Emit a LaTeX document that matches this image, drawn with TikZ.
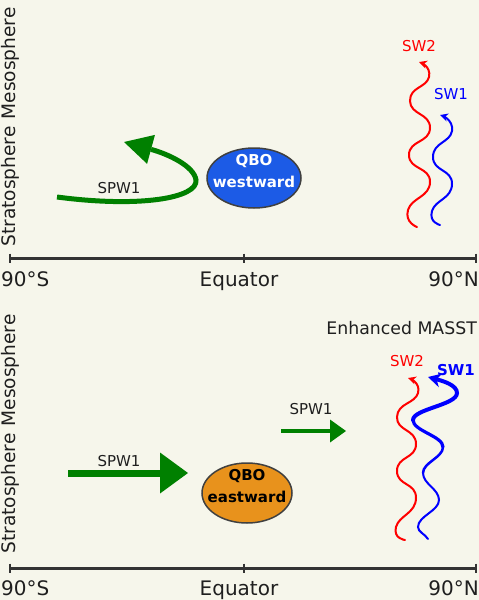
\documentclass[tikz,border=0pt]{standalone}
\usepackage{fontspec}
\setmainfont{DejaVu Sans}
\usetikzlibrary{arrows.meta,positioning,shapes.geometric}

\definecolor{paper}{RGB}{246,246,235}
\definecolor{spwgreen}{RGB}{0,128,0}
\definecolor{qboblue}{RGB}{28,91,230}
\definecolor{qboorange}{RGB}{232,146,28}
\definecolor{axisgray}{RGB}{51,51,51}

\begin{document}
\begin{tikzpicture}[
			x=1pt, y=-1pt,
			axisline/.style={line width=3pt, draw=axisgray},
			axistick/.style={line width=2.5pt, draw=axisgray},
			axislabel/.style={inner sep=0pt, text=black!88, font=\fontsize{20}{24}\selectfont},
			layerlabel/.style={rotate=90, anchor=base, inner sep=0pt, text=black!88, font=\fontsize{18.6}{22}\selectfont},
			qbo/.style={ellipse, draw=black!75, line width=1.5pt, minimum height=60pt, inner sep=0pt},
			qbotext/.style={inner sep=0pt, align=center, font=\bfseries\fontsize{15}{22}\selectfont},
			wavelabel/.style={anchor=base, inner sep=0pt, font=\fontsize{15}{18}\selectfont},
			wave/.style={line width=2pt, line cap=round, -{Stealth[length=8pt,width=8pt]}},
			spw/.style={draw=spwgreen, line width=5pt, -{Triangle[length=28pt,width=30pt,line width=0pt]}}
			]
			\useasboundingbox (0,0) rectangle (479,600);
			\fill[paper] (0,0) rectangle (479,600);
			
			% upper panel: QBO westward
			\node[layerlabel] (layersW) at (16,127) {Stratosphere\hspace{7pt}Mesosphere};
			\coordinate (southW) at (10,258);
			\coordinate (eqW) at (244,258);
			\coordinate (northW) at (476,258);
			\draw[axisline] (southW) -- (northW);
			\foreach \p in {southW,eqW,northW}
				\draw[axistick] ([yshift=4.5pt]\p) -- ([yshift=-4.5pt]\p);
			\node[axislabel, anchor=base west] (sW) at (1,286) {90°S};
			\node[axislabel, anchor=base] (eW) at (239,286) {Equator};
			\node[axislabel, anchor=base east] (nW) at (479,286) {90°N};
			
			\node[qbo, fill=qboblue, minimum width=94pt] (west) at (254,178) {};
			\node[qbotext, text=white] at ([yshift=6.5pt]west.center) {QBO\\westward};
			
			\coordinate (spwW) at (57,197);
			\coordinate (spwWtip) at (124,142);
			\draw[spw] (spwW) .. controls (140,208) and (198,198) .. (196,180)
				.. controls (194,166) and (168,154) .. (spwWtip);
			\node[wavelabel, text=black!88] at (119,193) {SPW1};
			
			\draw[wave, red] plot[smooth, tension=1] coordinates
				{(417,227) (408,210) (430,182) (409,155) (430,128) (410,101) (429,77) (419,62)};
			\draw[wave, blue] plot[smooth, tension=1] coordinates
				{(440,225) (432,211) (452,184) (433,157) (452,131) (440,115)};
			\node[wavelabel, text=red] (sw2W) at (419,51.5) {SW2};
			\node[wavelabel, text=blue] (sw1W) at (451,99) {SW1};
			
			% lower panel: QBO eastward
			\node[layerlabel] (layersE) at (16,434) {Stratosphere\hspace{7pt}Mesosphere};
			\coordinate (southE) at (10,568);
			\coordinate (eqE) at (244,568);
			\coordinate (northE) at (476,568);
			\draw[axisline] (southE) -- (northE);
			\foreach \p in {southE,eqE,northE}
				\draw[axistick] ([yshift=4.5pt]\p) -- ([yshift=-4.5pt]\p);
			\node[axislabel, anchor=base west] (sE) at (1,595) {90°S};
			\node[axislabel, anchor=base] (eE) at (239,595) {Equator};
			\node[axislabel, anchor=base east] (nE) at (479,595) {90°N};
			
			\node[anchor=base east, inner sep=0pt, text=black!88, font=\fontsize{17.3}{20}\selectfont] (masst) at (477,334) {Enhanced MASST};
			
			\node[qbo, fill=qboorange, minimum width=90pt] (east) at (247,493) {};
			\node[qbotext, text=black] at ([yshift=6.5pt]east.center) {QBO\\eastward};
			
			\coordinate (spwE) at (68,473);
			\coordinate (spwEtip) at (188,473);
			\draw[draw=spwgreen, line width=7pt, -{Triangle[length=28pt,width=41pt,line width=0pt]}] (spwE) -- (spwEtip);
			\node[wavelabel, text=black!88] at (119,466) {SPW1};
			
			\coordinate (spwM) at (281,431);
			\coordinate (spwMtip) at (346,431);
			\draw[draw=spwgreen, line width=4pt, -{Triangle[length=16pt,width=23pt,line width=0pt]}] (spwM) -- (spwMtip);
			\node[wavelabel, text=black!88] at (311,414) {SPW1};
			
			\draw[wave, red] plot[smooth, tension=1] coordinates
				{(405,540) (396,527) (416,498) (397,471) (416,444) (397,417) (418,393) (408,378)};
			% SW1 grows thicker on its way up
			\coordinate (sw1a) at (428,539);
			\coordinate (sw1b) at (418,527);
			\coordinate (sw1c) at (439,500);
			\coordinate (sw1d) at (423,473);
			\coordinate (sw1e) at (443,447);
			\coordinate (sw1f) at (413,420);
			\coordinate (sw1g) at (457,393);
			\coordinate (sw1tip) at (428,377);
			\draw[blue, line width=2pt, line cap=round] (sw1a) .. controls (425,534) and (418,532) .. (sw1b)
				.. controls (418,516) and (439,511) .. (sw1c)
				.. controls (439,489) and (423,484) .. (sw1d);
			\draw[blue, line width=2.5pt, line cap=round] (sw1d) .. controls (423,462.5) and (443,457.5) .. (sw1e);
			\draw[blue, line width=3.2pt, line cap=round] (sw1e) .. controls (443,436) and (413,431) .. (sw1f);
			\draw[blue, line width=4pt, line cap=round, -{Stealth[length=13pt,width=14pt]}] (sw1f)
				.. controls (413,409) and (457,405) .. (sw1g)
				.. controls (457,385) and (443,381) .. (sw1tip);
			\node[wavelabel, text=red] (sw2E) at (407,366.5) {SW2};
			\node[wavelabel, text=blue, font=\bfseries\fontsize{15}{18}\selectfont] (sw1E) at (456,375) {SW1};
		\end{tikzpicture}
\end{document}
